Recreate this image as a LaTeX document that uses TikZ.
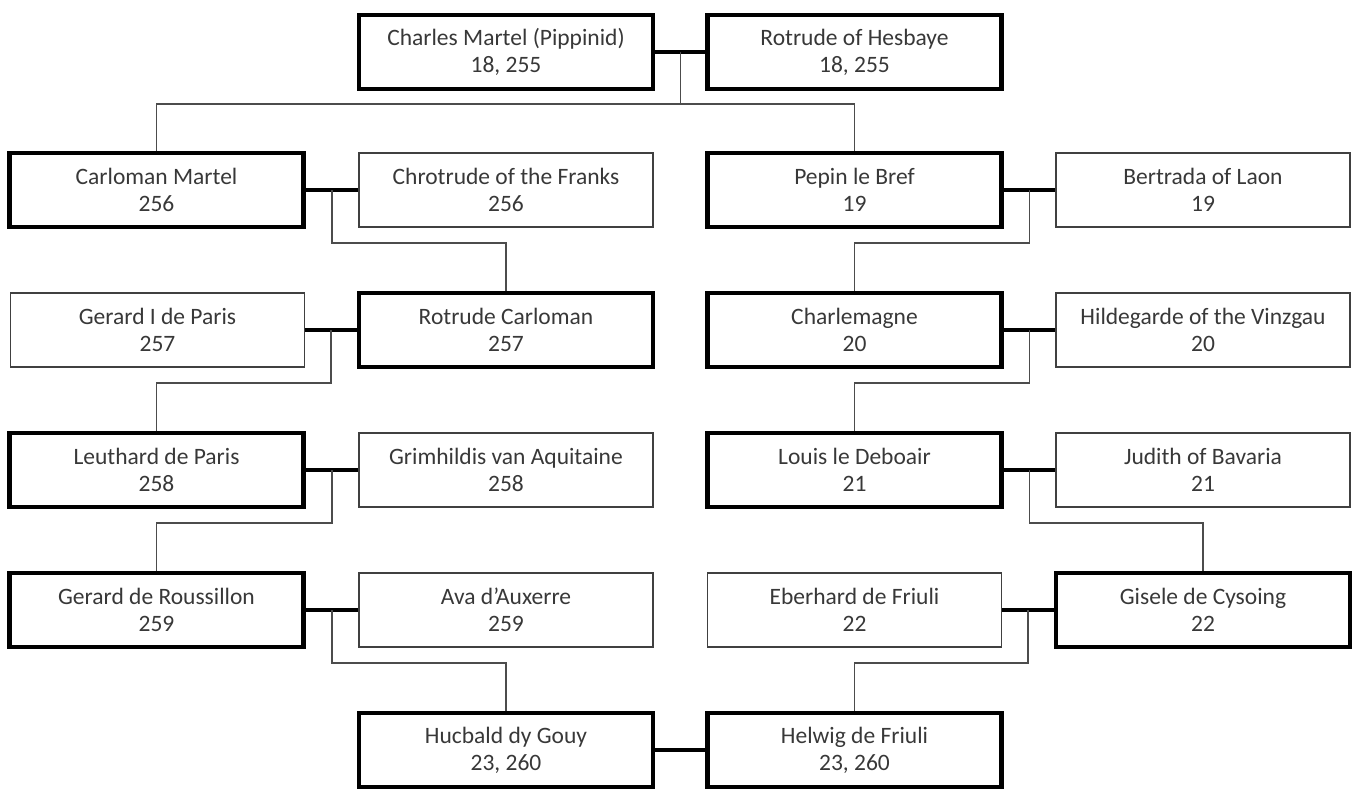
\documentclass[tikz,border=0pt]{standalone}
\usepackage{fontspec}
\setmainfont{Carlito}
\tikzset{
  person/.style={draw, minimum width=294pt, minimum height=74pt, inner sep=0pt, align=center,
    font=\fontsize{23.5}{27}\selectfont, text=black!78},
  blood/.style={person, line width=4.5pt, draw=black},
  spouse/.style={person, line width=1.5pt, draw=black!75},
  marriage/.style={line width=4pt, draw=black},
  descent/.style={line width=1.4pt, draw=black!70},
}
\begin{document}
\begin{tikzpicture}[x=1pt,y=-1pt]
\useasboundingbox (0,0) rectangle (1353,788);
% row 1
\node[blood]  (charles)  at (506,52)    {Charles Martel (Pippinid)\\18, 255};
\node[blood]  (rotrudeh) at (854.5,52)  {Rotrude of Hesbaye\\18, 255};
% row 2
\node[blood]  (carloman) at (156.5,190) {Carloman Martel\\256};
\node[spouse] (chrotrude) at (506,190)  {Chrotrude of the Franks\\256};
\node[blood]  (pepin)    at (854.5,190) {Pepin le Bref\\19};
\node[spouse] (bertrada) at (1203,190)  {Bertrada of Laon\\19};
% row 3
\node[spouse] (gerardi)  at (157.5,330) {Gerard I de Paris\\257};
\node[blood]  (rotrudec) at (506,330)   {Rotrude Carloman\\257};
\node[blood]  (charlemagne) at (854.5,330) {Charlemagne\\20};
\node[spouse] (hildegarde) at (1203,330) {Hildegarde of the Vinzgau\\20};
% row 4
\node[blood]  (leuthard) at (156.5,470) {Leuthard de Paris\\258};
\node[spouse] (grimhildis) at (506,470)  {Grimhildis van Aquitaine\\258};
\node[blood]  (louis)    at (854.5,470) {Louis le Deboair\\21};
\node[spouse] (judith)   at (1203,470)  {Judith of Bavaria\\21};
% row 5
\node[blood]  (gerardr)  at (156.5,610) {Gerard de Roussillon\\259};
\node[spouse] (ava)      at (506,610)   {Ava d’Auxerre\\259};
\node[spouse] (eberhard) at (854.5,610) {Eberhard de Friuli\\22};
\node[blood]  (gisele)   at (1203,610)  {Gisele de Cysoing\\22};
% row 6
\node[blood]  (hucbald)  at (506,750)   {Hucbald dy Gouy\\23, 260};
\node[blood]  (helwig)   at (854.5,750) {Helwig de Friuli\\23, 260};

% marriages
\draw[marriage] (charles) -- coordinate (j1) (rotrudeh);
\draw[marriage] (carloman) -- coordinate (j2l) (chrotrude);
\draw[marriage] (pepin) -- coordinate (j2r) (bertrada);
\draw[marriage] (gerardi) -- coordinate (j3l) (rotrudec);
\draw[marriage] (charlemagne) -- coordinate (j3r) (hildegarde);
\draw[marriage] (leuthard) -- coordinate (j4l) (grimhildis);
\draw[marriage] (louis) -- coordinate (j4r) (judith);
\draw[marriage] (gerardr) -- coordinate (j5l) (ava);
\draw[marriage] (eberhard) -- coordinate (j5r) (gisele);
\draw[marriage] (hucbald) -- (helwig);

% descent
\draw[descent] (j1) -- ++(0,52) coordinate (k1);
\draw[descent] (k1) -| (carloman.north);
\draw[descent] (k1) -| (pepin.north);
\draw[descent] (j2l) -- ++(0,53) coordinate (k2l) -| (rotrudec.north);
\draw[descent] (j2r) -- ++(0,53) coordinate (k2r) -| (charlemagne.north);
\draw[descent] (j3l) -- ++(0,53) coordinate (k3l) -| (leuthard.north);
\draw[descent] (j3r) -- ++(0,53) coordinate (k3r) -| (louis.north);
\draw[descent] (j4l) -- ++(0,53) coordinate (k4l) -| (gerardr.north);
\draw[descent] (j4r) -- ++(0,53) coordinate (k4r) -| (gisele.north);
\draw[descent] (j5l) -- ++(0,53) coordinate (k5l) -| (hucbald.north);
\draw[descent] (j5r) -- ++(0,53) coordinate (k5r) -| (helwig.north);
\end{tikzpicture}
\end{document}
